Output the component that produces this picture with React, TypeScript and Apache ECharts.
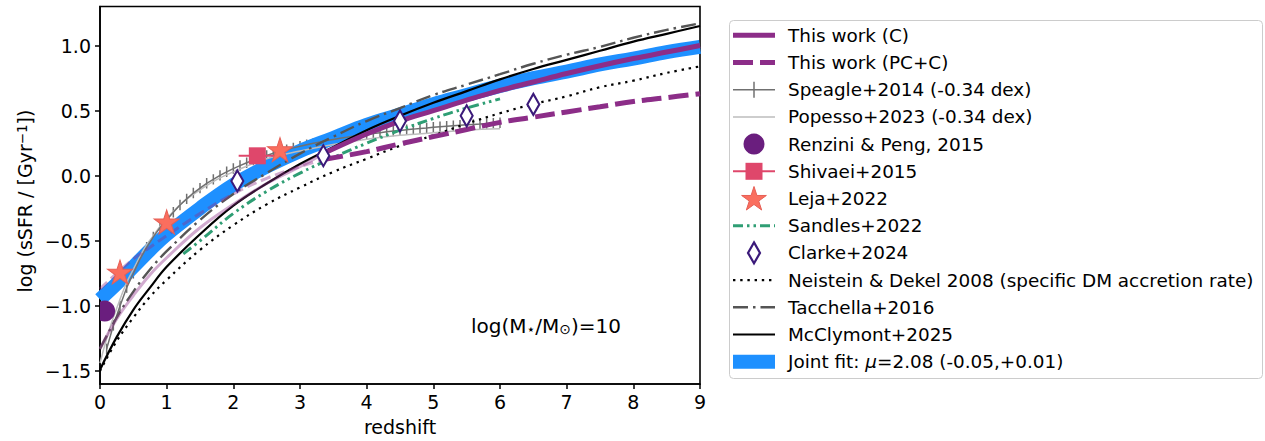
import React, { useEffect, useRef } from 'react';
import * as echarts from 'echarts';

const FONT = 'DejaVu Sans';

// ---------- curves: redshift grid and log sSFR [Gyr^-1] ----------
const Z_MODEL = [0, 0.25, 0.5, 0.75, 1, 1.5, 2, 2.5, 3, 3.5, 4, 4.5, 5, 5.5, 6, 6.5, 7, 7.5, 8, 8.5, 9];
const JOINT_FIT = [-0.95, -0.83, -0.7, -0.57, -0.45, -0.25, -0.07, 0.07, 0.19, 0.29, 0.39, 0.47, 0.55, 0.62, 0.69, 0.75, 0.8, 0.855, 0.9, 0.95, 0.99];
const NEISTEIN_DEKEL = [-1.5, -1.27, -1.09, -0.93, -0.8, -0.57, -0.38, -0.22, -0.09, 0.03, 0.13, 0.23, 0.31, 0.4, 0.48, 0.55, 0.61, 0.68, 0.73, 0.79, 0.84];
const TACCHELLA = [-1.33, -1.09, -0.89, -0.72, -0.58, -0.34, -0.14, 0.02, 0.17, 0.3, 0.42, 0.52, 0.62, 0.7, 0.78, 0.86, 0.93, 0.99, 1.06, 1.12, 1.17];
const MCCLYMONT = [-1.49, -1.24, -1.03, -0.86, -0.7, -0.45, -0.23, -0.06, 0.09, 0.22, 0.35, 0.46, 0.56, 0.65, 0.74, 0.82, 0.89, 0.96, 1.03, 1.09, 1.15];

const Z_THIS_WORK = [0, 0.25, 0.5, 0.75, 1, 1.5, 2, 2.5, 3, 3.35, 4, 4.5, 5, 5.5, 6, 6.5, 7, 7.5, 8, 8.5, 9];
const THIS_WORK_C = [-1.33, -1.1, -0.92, -0.76, -0.63, -0.4, -0.22, -0.06, 0.07, 0.17, 0.32, 0.42, 0.5, 0.58, 0.655, 0.72, 0.785, 0.845, 0.9, 0.95, 1.0];
const THIS_WORK_PCC = [-0.87, -0.75, -0.64, -0.55, -0.46, -0.29, -0.14, -0.02, 0.07, 0.125, 0.185, 0.245, 0.3, 0.355, 0.41, 0.45, 0.49, 0.53, 0.57, 0.6, 0.63];
// below this redshift both relations are extrapolations and drawn faded
const THIS_WORK_FIT_START = 3.35;

const Z_SPEAGLE = [0.1, 0.2, 0.3, 0.4, 0.5, 0.6, 0.7, 0.8, 0.9, 1.0, 1.1, 1.2, 1.3, 1.4, 1.5, 1.6, 1.7, 1.8, 1.9, 2.0,
  2.1, 2.2, 2.3, 2.4, 2.5, 2.6, 2.7, 2.8, 2.9, 3.0, 3.1, 3.2, 3.3, 3.4, 3.5, 3.6, 3.7, 3.8, 3.9, 4.0,
  4.1, 4.2, 4.3, 4.4, 4.5, 4.6, 4.7, 4.8, 4.9, 5.0, 5.1, 5.2, 5.3, 5.4, 5.5, 5.6, 5.7, 5.8, 5.9, 6.0];
const SPEAGLE = [-1.33, -1.15, -1.0, -0.86, -0.75, -0.64, -0.55, -0.47, -0.4, -0.34, -0.28, -0.225, -0.178, -0.133, -0.095, -0.058, -0.028, 0.003, 0.03, 0.055,
  0.078, 0.1, 0.12, 0.138, 0.156, 0.172, 0.187, 0.2, 0.214, 0.226, 0.238, 0.25, 0.259, 0.27, 0.279, 0.288, 0.295, 0.303, 0.31, 0.318,
  0.325, 0.331, 0.337, 0.343, 0.348, 0.354, 0.358, 0.363, 0.367, 0.372, 0.376, 0.38, 0.384, 0.388, 0.391, 0.394, 0.397, 0.401, 0.404, 0.407];
const SPEAGLE_ERR = 0.04;

const Z_POPESSO = [0, 0.1, 0.2, 0.3, 0.4, 0.5, 0.6, 0.7, 0.8, 0.9, 1.0, 1.25, 1.5, 1.75, 2, 2.5, 3, 3.5, 4, 4.5, 5, 5.5, 6];
const POPESSO = [-1.44, -1.25, -1.09, -0.95, -0.82, -0.72, -0.62, -0.53, -0.46, -0.39, -0.33, -0.2, -0.11, -0.03, 0.03, 0.13, 0.19, 0.24, 0.28, 0.31, 0.33, 0.35, 0.36];

const Z_SANDLES = [1.25, 1.5, 2, 2.5, 3, 3.5, 4, 4.5, 5, 5.5, 6];
const SANDLES = [-0.6, -0.5, -0.29, -0.12, 0.02, 0.14, 0.25, 0.35, 0.44, 0.52, 0.59];

// ---------- individual measurements [redshift, log sSFR] ----------
const RENZINI_PENG = [[0.07, -1.04]];
const SHIVAEI = [[2.36, 0.153]];
const SHIVAEI_Z_RANGE = [[2.08, 2.63]];
const LEJA = [[0.3, -0.74], [1.0, -0.355], [2.7, 0.2]];
const CLARKE = [[2.06, -0.04], [3.35, 0.153], [4.5, 0.42], [5.5, 0.46], [6.5, 0.548]];

// ---------- axes ----------
const X_TICKS = [0, 1, 2, 3, 4, 5, 6, 7, 8, 9];
const Y_TICKS = [-1.5, -1.0, -0.5, 0.0, 0.5, 1.0];

const LEGEND_LABELS = [
  'This work (C)',
  'This work (PC+C)',
  'Speagle+2014 (-0.34 dex)',
  'Popesso+2023 (-0.34 dex)',
  'Renzini & Peng, 2015',
  'Shivaei+2015',
  'Leja+2022',
  'Sandles+2022',
  'Clarke+2024',
  'Neistein & Dekel 2008 (specific DM accretion rate)',
  'Tacchella+2016',
  'McClymont+2025',
  'Joint fit: {it|μ}=2.08 (-0.05,+0.01)',
];

// ---------- colours ----------
const C_PURPLE = '#8c2d88';
const C_BLUE = '#1e90ff';
const C_SPEAGLE = '#707070';
const C_POPESSO = '#bdbdbd';
const C_RENZINI = '#6a1e7e';
const C_SHIVAEI = '#df476b';
const C_LEJA = '#fa6e5e';
const C_LEJA_EDGE = '#e65f55';
const C_SANDLES = '#2f9e74';
const C_CLARKE = '#3b1a7a';
const C_TACCHELLA = '#555555';

const DASH_PCC = [20, 7];
const DASH_PCC_FADED = [10, 5];
const DASH_SANDLES = [10, 4, 2.5, 4, 2.5, 4];
const DASH_DOT = [15, 5, 2.5, 5];
const DOTTED = [2.4, 4.8];

const STAR_UNIT = [
  [0, -1], [0.2245, -0.309], [0.9511, -0.309], [0.3633, 0.118], [0.5878, 0.809],
  [0, 0.382], [-0.5878, 0.809], [-0.3633, 0.118], [-0.9511, -0.309], [-0.2245, -0.309],
];
const STAR_PATH = 'path://' + STAR_UNIT.map((p, i) => `${i ? 'L' : 'M'}${p[0] * 100},${p[1] * 100}`).join(' ') + ' Z';

const pairs = (xs: number[], ys: number[]) => xs.map((x, i) => [x, ys[i]]);

function curve(name: string, data: number[][], lineStyle: any, z = 2, smooth: number | boolean = 0.4) {
  return {
    type: 'line', name, data, symbol: 'none', showSymbol: false,
    smooth, clip: true, silent: true, z, lineStyle,
  };
}

function buildOption() {
  const cPts = pairs(Z_THIS_WORK, THIS_WORK_C);
  const pPts = pairs(Z_THIS_WORK, THIS_WORK_PCC);
  const low = (pts: number[][]) => pts.filter((p) => p[0] <= THIS_WORK_FIT_START);
  const high = (pts: number[][]) => pts.filter((p) => p[0] >= THIS_WORK_FIT_START);

  const series: any[] = [
    curve('Joint fit', pairs(Z_MODEL, JOINT_FIT), { color: C_BLUE, width: 14, cap: 'butt' }),
    curve('Popesso+2023 (-0.34 dex)', pairs(Z_POPESSO, POPESSO), { color: C_POPESSO, width: 1.5 }),
    curve('Speagle+2014 (-0.34 dex)', pairs(Z_SPEAGLE, SPEAGLE), { color: C_SPEAGLE, width: 1.5 }, 2, false),
    {
      type: 'custom', name: 'Speagle+2014 errors', clip: true, silent: true, z: 2,
      data: Z_SPEAGLE.map((zz, i) => [zz, SPEAGLE[i] - SPEAGLE_ERR, SPEAGLE[i] + SPEAGLE_ERR]),
      encode: { x: 0, y: [1, 2] },
      renderItem: (_p: any, api: any) => {
        const a = api.coord([api.value(0), api.value(1)]);
        const b = api.coord([api.value(0), api.value(2)]);
        return { type: 'line', shape: { x1: a[0], y1: a[1], x2: b[0], y2: b[1] }, style: { stroke: C_SPEAGLE, lineWidth: 1.5 } };
      },
    },
    curve('Sandles+2022', pairs(Z_SANDLES, SANDLES), { color: C_SANDLES, width: 3, type: DASH_SANDLES }),
    curve('Neistein & Dekel 2008', pairs(Z_MODEL, NEISTEIN_DEKEL), { color: '#000', width: 2.2, type: DOTTED }),
    curve('Tacchella+2016', pairs(Z_MODEL, TACCHELLA), { color: C_TACCHELLA, width: 2.4, type: DASH_DOT }),
    curve('McClymont+2025', pairs(Z_MODEL, MCCLYMONT), { color: '#000', width: 2.2 }),
    curve('This work (C) extrapolated', low(cPts), { color: C_PURPLE, width: 3, opacity: 0.4 }),
    curve('This work (PC+C) extrapolated', low(pPts), { color: C_PURPLE, width: 3, opacity: 0.4, type: DASH_PCC_FADED }),
    curve('This work (C)', high(cPts), { color: C_PURPLE, width: 5 }),
    curve('This work (PC+C)', high(pPts), { color: C_PURPLE, width: 5, type: DASH_PCC }),
    {
      type: 'custom', name: 'Renzini & Peng, 2015', clip: true, silent: true, z: 3,
      data: RENZINI_PENG,
      renderItem: (_p: any, api: any) => {
        const c = api.coord([api.value(0), api.value(1)]);
        return { type: 'circle', shape: { cx: c[0], cy: c[1], r: 10.5 }, style: { fill: C_RENZINI } };
      },
    },
    {
      type: 'custom', name: 'Shivaei+2015 range', clip: true, silent: true, z: 3,
      data: SHIVAEI.map((p, i) => [SHIVAEI_Z_RANGE[i][0], SHIVAEI_Z_RANGE[i][1], p[1]]),
      encode: { x: [0, 1], y: 2 },
      renderItem: (_p: any, api: any) => {
        const a = api.coord([api.value(0), api.value(2)]);
        const b = api.coord([api.value(1), api.value(2)]);
        return { type: 'line', shape: { x1: a[0], y1: a[1], x2: b[0], y2: b[1] }, style: { stroke: C_SHIVAEI, lineWidth: 2 } };
      },
    },
    {
      type: 'scatter', name: 'Shivaei+2015', data: SHIVAEI, symbol: 'rect', symbolSize: 17, silent: true, z: 3,
      itemStyle: { color: C_SHIVAEI, opacity: 1 },
    },
    {
      type: 'scatter', name: 'Leja+2022', data: LEJA, symbol: STAR_PATH, symbolSize: [25, 24], silent: true, z: 4,
      itemStyle: { color: C_LEJA, borderColor: C_LEJA_EDGE, borderWidth: 1, opacity: 1 },
    },
    {
      type: 'scatter', name: 'Clarke+2024', data: CLARKE, symbol: 'diamond', symbolSize: [12, 21], silent: true, z: 5,
      itemStyle: { color: '#fff', borderColor: C_CLARKE, borderWidth: 2.2, opacity: 1 },
    },
  ];

  // ---------- legend drawn as graphic elements ----------
  const LX0 = 733, LX1 = 775, LXC = 754, LTX = 788, ROW0 = 35.3, ROWH = 27.2;
  const rowY = (i: number) => ROW0 + ROWH * i;
  const hLine = (i: number, stroke: string, lineWidth: number, lineDash?: number[]) => ({
    type: 'line', shape: { x1: LX0, y1: rowY(i), x2: LX1, y2: rowY(i) },
    style: { stroke, lineWidth, lineDash: lineDash || null },
  });
  const g: any[] = [
    {
      type: 'rect', shape: { x: 729.5, y: 20.5, width: 533, height: 358, r: 4 },
      style: { fill: 'rgba(255,255,255,0.8)', stroke: '#cccccc', lineWidth: 1 },
    },
    hLine(0, C_PURPLE, 5),
    hLine(1, C_PURPLE, 5, DASH_PCC),
    hLine(2, C_SPEAGLE, 1.5),
    { type: 'line', shape: { x1: LXC, y1: rowY(2) - 8, x2: LXC, y2: rowY(2) + 8 }, style: { stroke: C_SPEAGLE, lineWidth: 1.5 } },
    hLine(3, C_POPESSO, 1.5),
    { type: 'circle', shape: { cx: LXC, cy: rowY(4), r: 10.5 }, style: { fill: C_RENZINI } },
    hLine(5, C_SHIVAEI, 2),
    { type: 'rect', shape: { x: LXC - 8.5, y: rowY(5) - 8.5, width: 17, height: 17 }, style: { fill: C_SHIVAEI } },
    {
      type: 'polygon', shape: { points: STAR_UNIT.map((p) => [LXC + p[0] * 13, rowY(6) + 1 + p[1] * 13]) },
      style: { fill: C_LEJA, stroke: C_LEJA_EDGE, lineWidth: 1 },
    },
    hLine(7, C_SANDLES, 3, DASH_SANDLES),
    {
      type: 'polygon',
      shape: { points: [[LXC, rowY(8) - 10.5], [LXC + 6, rowY(8)], [LXC, rowY(8) + 10.5], [LXC - 6, rowY(8)]] },
      style: { fill: '#fff', stroke: C_CLARKE, lineWidth: 2.2 },
    },
    hLine(9, '#000', 2.2, DOTTED),
    hLine(10, C_TACCHELLA, 2.4, DASH_DOT),
    hLine(11, '#000', 2.2),
    { type: 'rect', shape: { x: LX0, y: rowY(12) - 7, width: LX1 - LX0, height: 14 }, style: { fill: C_BLUE } },
  ];
  LEGEND_LABELS.forEach((label, i) => {
    g.push({
      type: 'text', x: LTX, y: rowY(i),
      style: {
        text: label, fontSize: 18.4, fontFamily: FONT, fill: '#000',
        align: 'left', textAlign: 'left', verticalAlign: 'middle', textVerticalAlign: 'middle',
        rich: { it: { fontSize: 18.4, fontFamily: FONT, fontStyle: 'italic', fill: '#000' } },
      },
    });
  });
  // y-axis title
  g.push({
    type: 'text', x: 25, y: 201, rotation: Math.PI / 2,
    style: {
      text: 'log (sSFR / [Gyr{sup|−1}])', fontSize: 19, fontFamily: FONT, fill: '#000',
      align: 'center', textAlign: 'center', verticalAlign: 'middle', textVerticalAlign: 'middle',
      rich: { sup: { fontSize: 13.5, fontFamily: FONT, fill: '#000', verticalAlign: 'top', padding: [0, 0, 7, 0] } },
    },
  });
  // stellar mass annotation
  g.push({
    type: 'text', x: 546, y: 326,
    style: {
      text: 'log(M{s|⋆}/M{s|⊙})=10', fontSize: 20, fontFamily: FONT, fill: '#000',
      align: 'center', textAlign: 'center', verticalAlign: 'middle', textVerticalAlign: 'middle',
      rich: { s: { fontSize: 14, fontFamily: FONT, fill: '#000', verticalAlign: 'bottom', padding: [6, 0, 0, 0] } },
    },
  });

  const minus = (v: number) => (v < 0 ? '−' : '') + Math.abs(v).toFixed(1);

  return {
    animation: false,
    backgroundColor: '#ffffff',
    textStyle: { fontFamily: FONT },
    grid: {
      left: 100, top: 6.5, width: 600, height: 379.3, containLabel: false,
      show: true, borderColor: '#000', borderWidth: 1.6, backgroundColor: 'transparent',
    },
    xAxis: {
      type: 'value', min: 0, max: 9, interval: 1,
      axisLine: { show: true, onZero: false, lineStyle: { color: '#000', width: 1.6 } },
      axisTick: { show: true, inside: false, length: 5, lineStyle: { color: '#000', width: 1.5 }, customValues: X_TICKS },
      axisLabel: { fontSize: 19, color: '#000', margin: 8, fontFamily: FONT, customValues: X_TICKS },
      splitLine: { show: false },
      name: 'redshift', nameLocation: 'middle', nameGap: 33,
      nameTextStyle: { fontSize: 19, color: '#000', fontFamily: FONT },
    },
    yAxis: {
      type: 'value', min: -1.6, max: 1.3,
      axisLine: { show: true, onZero: false, lineStyle: { color: '#000', width: 1.6 } },
      axisTick: { show: true, inside: false, length: 5, lineStyle: { color: '#000', width: 1.5 }, customValues: Y_TICKS },
      axisLabel: { fontSize: 19, color: '#000', margin: 9, fontFamily: FONT, customValues: Y_TICKS, formatter: minus },
      splitLine: { show: false },
    },
    series,
    graphic: g,
  };
}

export default function App() {
  const ref = useRef<HTMLDivElement>(null);
  useEffect(() => {
    if (!ref.current) return;
    const chart = echarts.init(ref.current, undefined, { renderer: 'svg' });
    chart.setOption(buildOption() as any);
    return () => chart.dispose();
  }, []);
  return (
    <div
      ref={ref}
      style={{ position: 'fixed', left: 0, top: 0, width: 1265, height: 441, background: '#fff' }}
    />
  );
}
